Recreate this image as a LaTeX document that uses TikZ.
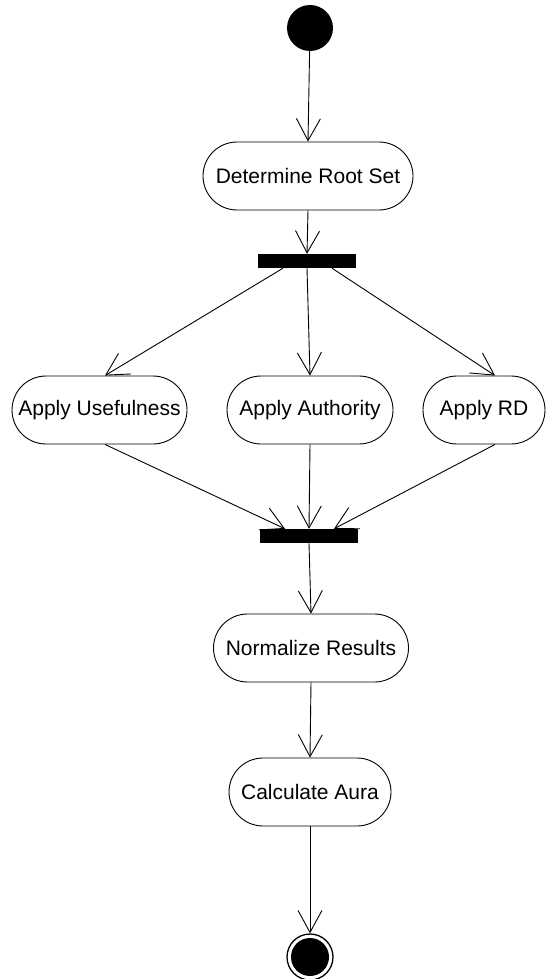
\documentclass[tikz,border=0pt]{standalone}
\usepackage{fontspec}
\setmainfont{Liberation Sans}
\usetikzlibrary{arrows.meta}
\begin{document}
\begin{tikzpicture}[x=1pt,y=-1pt,
  act/.style={draw,line width=0.9pt,rounded corners=34pt,minimum height=68pt,inner sep=0pt,font=\fontsize{21}{25}\selectfont},
  bar/.style={fill=black,inner sep=0pt,minimum width=98pt,minimum height=14pt},
  flow/.style={line width=0.9pt,-{Straight Barb[length=22pt,width=24pt,line width=0.9pt]}}]
\useasboundingbox (0,0) rectangle (558,979);
\node[circle,fill=black,minimum size=46pt,inner sep=0pt] (start) at (310,28) {};
\node[act,minimum width=210pt] (root) at (308,176) {Determine Root Set};
\node[bar] (fork) at (307,261) {};
\node[act,minimum width=175pt] (use) at (99.5,410) {Apply Usefulness};
\node[act,minimum width=166pt] (auth) at (310,410) {Apply Authority};
\node[act,minimum width=122pt] (rd) at (484,410) {Apply RD};
\node[bar] (join) at (309,536) {};
\node[act,minimum width=195pt] (norm) at (311,648) {Normalize Results};
\node[act,minimum width=162pt] (aura) at (310,792) {Calculate Aura};
\node[circle,draw,line width=1.3pt,minimum size=46pt,inner sep=0pt] (end) at (310,957) {};
\node[circle,fill=black,minimum size=38pt,inner sep=0pt] (endin) at (end) {};
\draw[flow] (start) -- (root.north);
\draw[flow] (root.south) -- (fork.north);
\draw[flow] ([xshift=-24pt]fork.south) -- ([xshift=5.5pt]use.north);
\draw[flow] (fork.south) -- (auth.north);
\draw[flow] ([xshift=25pt]fork.south) -- ([xshift=11pt]rd.north);
\draw[flow] ([xshift=5.5pt]use.south) -- ([xshift=-24pt]join.north);
\draw[flow] (auth.south) -- (join.north);
\draw[flow] ([xshift=11pt]rd.south) -- ([xshift=25pt]join.north);
\draw[flow] (join.south) -- (norm.north);
\draw[flow] (norm.south) -- (aura.north);
\draw[flow] (aura.south) -- (end.north);
\end{tikzpicture}
\end{document}
